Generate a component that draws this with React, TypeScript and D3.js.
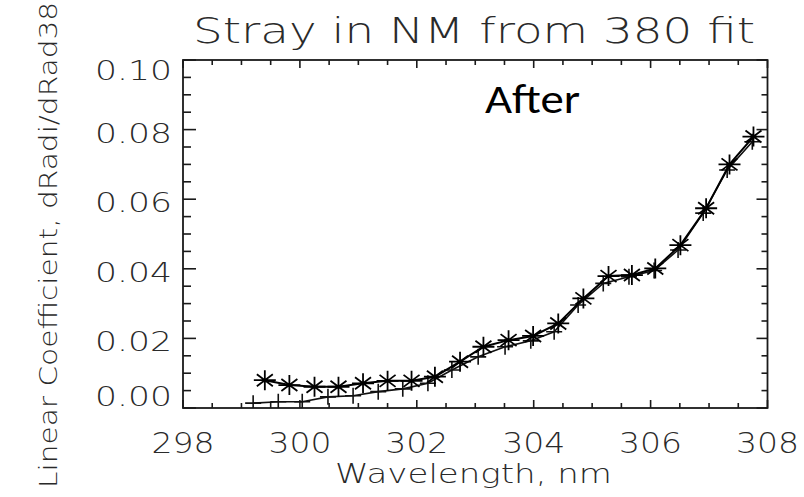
import React from "react";
import * as d3 from "d3";

const title = "Stray in NM from 380 fit";
const xTitle = "Wavelength, nm";
const yTitle = "Linear Coefficient, dRadi/dRad380";
const annotation = "After";

const xMajorTicks = [298, 300, 302, 304, 306, 308];
const yMajorTicks = [0.0, 0.02, 0.04, 0.06, 0.08, 0.1];
const yTickLabels = ["0.00", "0.02", "0.04", "0.06", "0.08", "0.10"];

// Asterisk series
const starWl = [299.40, 299.82, 300.25, 300.66, 301.08, 301.50, 301.91, 302.31, 302.74, 303.14, 303.57, 303.99, 304.42, 304.85, 305.28, 305.68, 306.08, 306.51, 306.95, 307.35, 307.76];
const starVal = [0.0080, 0.0066, 0.0061, 0.0061, 0.0071, 0.0078, 0.0078, 0.0090, 0.0133, 0.0176, 0.0195, 0.0207, 0.0243, 0.0315, 0.0379, 0.0382, 0.0401, 0.0468, 0.0574, 0.0700, 0.0780];

// Plus series
const plusWl = [299.20, 299.63, 300.04, 300.48, 300.91, 301.34, 301.76, 302.19, 302.60, 303.05, 303.51, 303.95, 304.35, 304.76, 305.19, 305.63, 306.06, 306.47, 306.90, 307.31, 307.74];
const plusVal = [0.0014, 0.0018, 0.0018, 0.0032, 0.0035, 0.0047, 0.0055, 0.0071, 0.0109, 0.0147, 0.0176, 0.0193, 0.0219, 0.0296, 0.0358, 0.0377, 0.0395, 0.0454, 0.0560, 0.0684, 0.0765];

const W = 804, H = 497;
const L = 183, R = 767.5, T = 60, B = 408;
const FONT = "'DejaVu Sans', sans-serif";
const INK = "#1a1a1a";
const TXT = "#2a2a2a";

export default function App() {
  const x = d3.scaleLinear().domain([298, 308]).range([L, R]);
  const y = d3.scaleLinear().domain([0, 0.1]).range([B, T]);

  const xMinor = d3.range(298, 308.001, 0.5);
  const yMinor = d3.range(0, 0.1001, 0.005);

  const starData = starWl.map((w, i) => [w, starVal[i]] as [number, number]);
  const plusData = plusWl.map((w, i) => [w, plusVal[i]] as [number, number]);
  const line = d3.line<[number, number]>().x(d => x(d[0])).y(d => y(d[1]));

  const isMajorX = (v: number) => xMajorTicks.some(m => Math.abs(m - v) < 1e-6);
  const isMajorY = (v: number) => yMajorTicks.some(m => Math.abs(m - v) < 1e-6);

  const starPath = (cx: number, cy: number, r: number) => {
    const a = r * 0.8;
    return `M${cx},${cy - r}L${cx},${cy + r}M${cx - r * 1.1},${cy}L${cx + r * 1.1},${cy}M${cx - a},${cy - a * 0.75}L${cx + a},${cy + a * 0.75}M${cx - a},${cy + a * 0.75}L${cx + a},${cy - a * 0.75}`;
  };
  const plusPath = (cx: number, cy: number, r: number) =>
    `M${cx},${cy - r}L${cx},${cy + r}M${cx - r},${cy}L${cx + r},${cy}`;

  const txtProps = { fontFamily: FONT, fontWeight: 200, fill: TXT } as const;

  return (
    <svg width={W} height={H} style={{ position: "absolute", left: 0, top: 0, background: "#fff" }}>
      <defs>
        <clipPath id="plotClip">
          <rect x={L} y={T} width={R - L} height={B - T} />
        </clipPath>
      </defs>
      <rect x={0} y={0} width={W} height={H} fill="#fff" />

      {/* Title */}
      <text x={193} y={43} {...txtProps} fontSize={36} textLength={562} lengthAdjust="spacingAndGlyphs">{title}</text>

      {/* Frame */}
      <rect x={L} y={T} width={R - L} height={B - T} fill="none" stroke={INK} strokeWidth={1.8} />

      {/* X ticks bottom & top */}
      {xMinor.map((v, i) => {
        const len = isMajorX(v) ? 8 : 5;
        const px = x(v);
        return (
          <g key={"xt" + i}>
            <line x1={px} x2={px} y1={B} y2={B - len} stroke={INK} strokeWidth={1.6} />
            <line x1={px} x2={px} y1={T} y2={T + len} stroke={INK} strokeWidth={1.6} />
          </g>
        );
      })}
      {/* Y ticks left & right */}
      {yMinor.map((v, i) => {
        const major = isMajorY(v);
        const lenL = major ? 13 : 8;
        const lenR = major ? 11 : 6;
        const py = y(v);
        return (
          <g key={"yt" + i}>
            <line x1={L} x2={L + lenL} y1={py} y2={py} stroke={INK} strokeWidth={1.6} />
            <line x1={R} x2={R - lenR} y1={py} y2={py} stroke={INK} strokeWidth={1.6} />
          </g>
        );
      })}

      {/* X tick labels */}
      {xMajorTicks.map((v, i) => (
        <text key={"xl" + i} x={x(v)} y={453} textAnchor="middle" {...txtProps} fontSize={28} textLength={63} lengthAdjust="spacingAndGlyphs">{String(v)}</text>
      ))}
      {/* Y tick labels */}
      {yMajorTicks.map((v, i) => {
        const cy = Math.min(Math.max(y(v) + 3, 70), 396);
        return (
          <text key={"yl" + i} x={172} y={cy + 10} textAnchor="end" {...txtProps} fontSize={27} textLength={77} lengthAdjust="spacingAndGlyphs">{yTickLabels[i]}</text>
        );
      })}

      {/* Axis titles */}
      <text x={335} y={483} {...txtProps} fontSize={27} textLength={277} lengthAdjust="spacingAndGlyphs">{xTitle}</text>
      <text transform="translate(57,488) rotate(-90)" x={0} y={0} {...txtProps} fontSize={25} textLength={505} lengthAdjust="spacingAndGlyphs">{yTitle}</text>

      {/* Data */}
      <g clipPath="url(#plotClip)">
        <path d={line(plusData) || ""} fill="none" stroke="#111" strokeWidth={1.6} />
        {plusData.map((d, i) => (
          <path key={"p" + i} d={plusPath(x(d[0]), y(d[1]), 8)} stroke="#111" strokeWidth={1.6} fill="none" />
        ))}
        <path d={line(starData) || ""} fill="none" stroke="#000" strokeWidth={2} />
        {starData.map((d, i) => (
          <path key={"s" + i} d={starPath(x(d[0]), y(d[1]), 10)} stroke="#000" strokeWidth={1.8} fill="none" />
        ))}
      </g>

      {/* Annotation */}
      <text x={485} y={113} fontFamily="Carlito, Calibri, 'Liberation Sans', Arial, sans-serif" fontSize={42} fill="#000" textLength={95} lengthAdjust="spacingAndGlyphs">{annotation}</text>
    </svg>
  );
}
